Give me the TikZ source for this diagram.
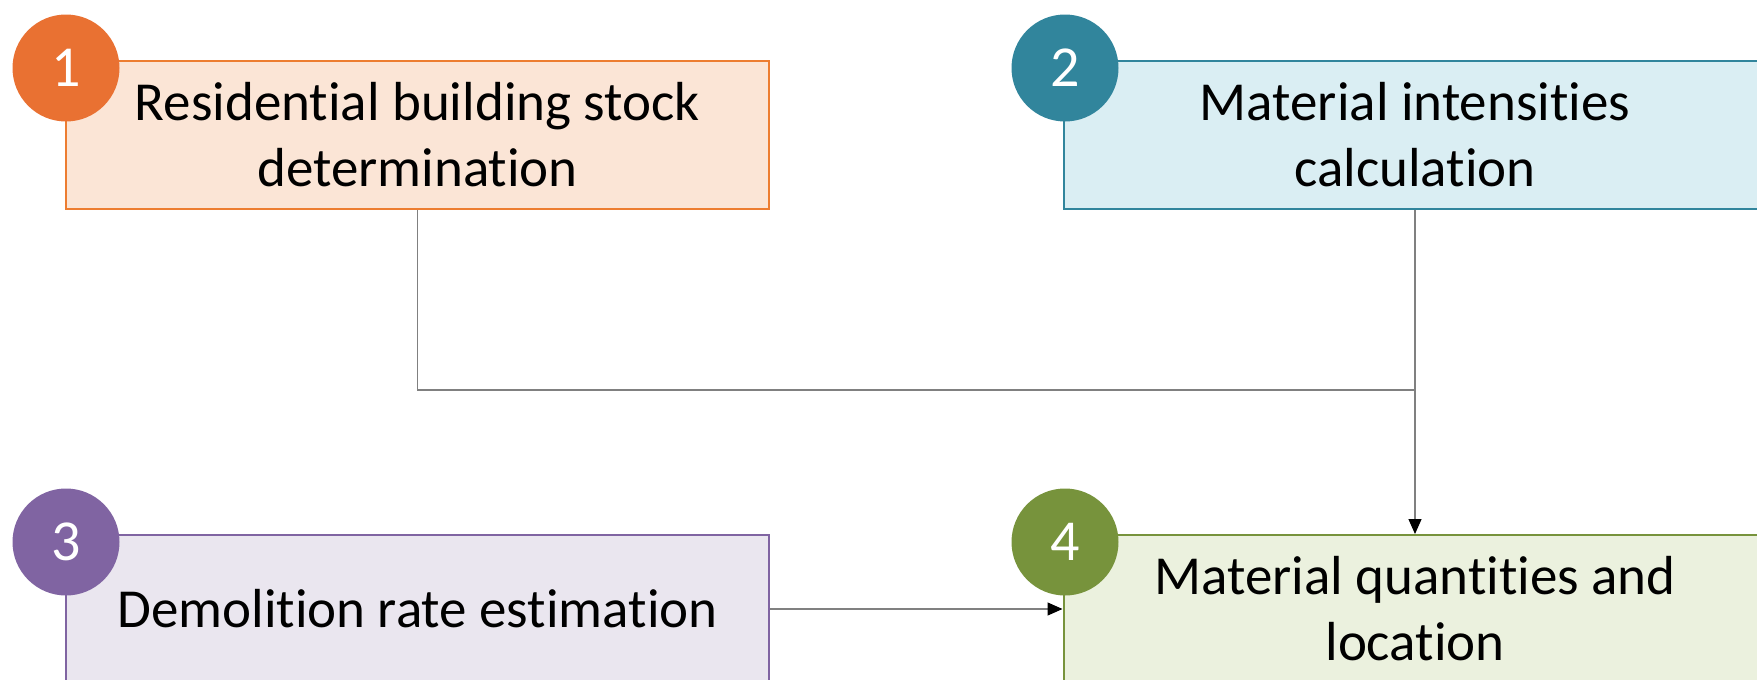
\documentclass[tikz,border=0pt]{standalone}
\usepackage{fontspec}
\setmainfont{Carlito}[Ligatures=NoCommon]
\usetikzlibrary{arrows.meta}
\definecolor{orC}{HTML}{E97132}
\definecolor{orB}{HTML}{ED7D31}
\definecolor{orF}{HTML}{FBE5D6}
\definecolor{tlC}{HTML}{31859C}
\definecolor{tlF}{HTML}{DAEEF3}
\definecolor{puC}{HTML}{8064A2}
\definecolor{puF}{HTML}{EAE6EF}
\definecolor{grC}{HTML}{77933C}
\definecolor{grF}{HTML}{EBF1DE}
\definecolor{lineC}{HTML}{808080}
\tikzset{
  stepbox/.style={draw, line width=2pt, minimum width=703pt, minimum height=148pt,
    align=center, inner sep=0pt, font=\fontsize{55}{66}\selectfont},
  numcirc/.style={circle, minimum size=107pt, inner sep=0pt, text=white,
    font=\fontsize{58}{60}\selectfont},
  conn/.style={draw=lineC, line width=1.2pt},
  arr/.style={conn, -{Triangle[length=15pt,width=13pt,color=black]}}
}
\begin{document}
\begin{tikzpicture}[x=1pt,y=-1pt]
\useasboundingbox (0,0) rectangle (1757,680);
\clip (0,0) rectangle (1757,680);
\node[stepbox, draw=orB, fill=orF] (b1) at (417.5,135) {Residential building stock\\determination};
\node[stepbox, draw=tlC, fill=tlF] (b2) at (1415,135) {Material intensities\\calculation};
\node[stepbox, draw=puC, fill=puF] (b3) at (417.5,609) {Demolition rate estimation};
\node[stepbox, draw=grC, fill=grF] (b4) at (1415,609) {Material quantities and\\location};
\node[numcirc, fill=orC] (c1) at (66,68) {1};
\node[numcirc, fill=tlC] (c2) at (1065,68) {2};
\node[numcirc, fill=puC] (c3) at (66,542) {3};
\node[numcirc, fill=grC] (c4) at (1065,542) {4};
\coordinate (j) at (b2.south |- 0,390);
\draw[conn] (b1.south) |- (j);
\draw[arr] (b2.south) -- (b4.north);
\draw[arr] (b3.east) -- (b4.west);
\end{tikzpicture}
\end{document}
